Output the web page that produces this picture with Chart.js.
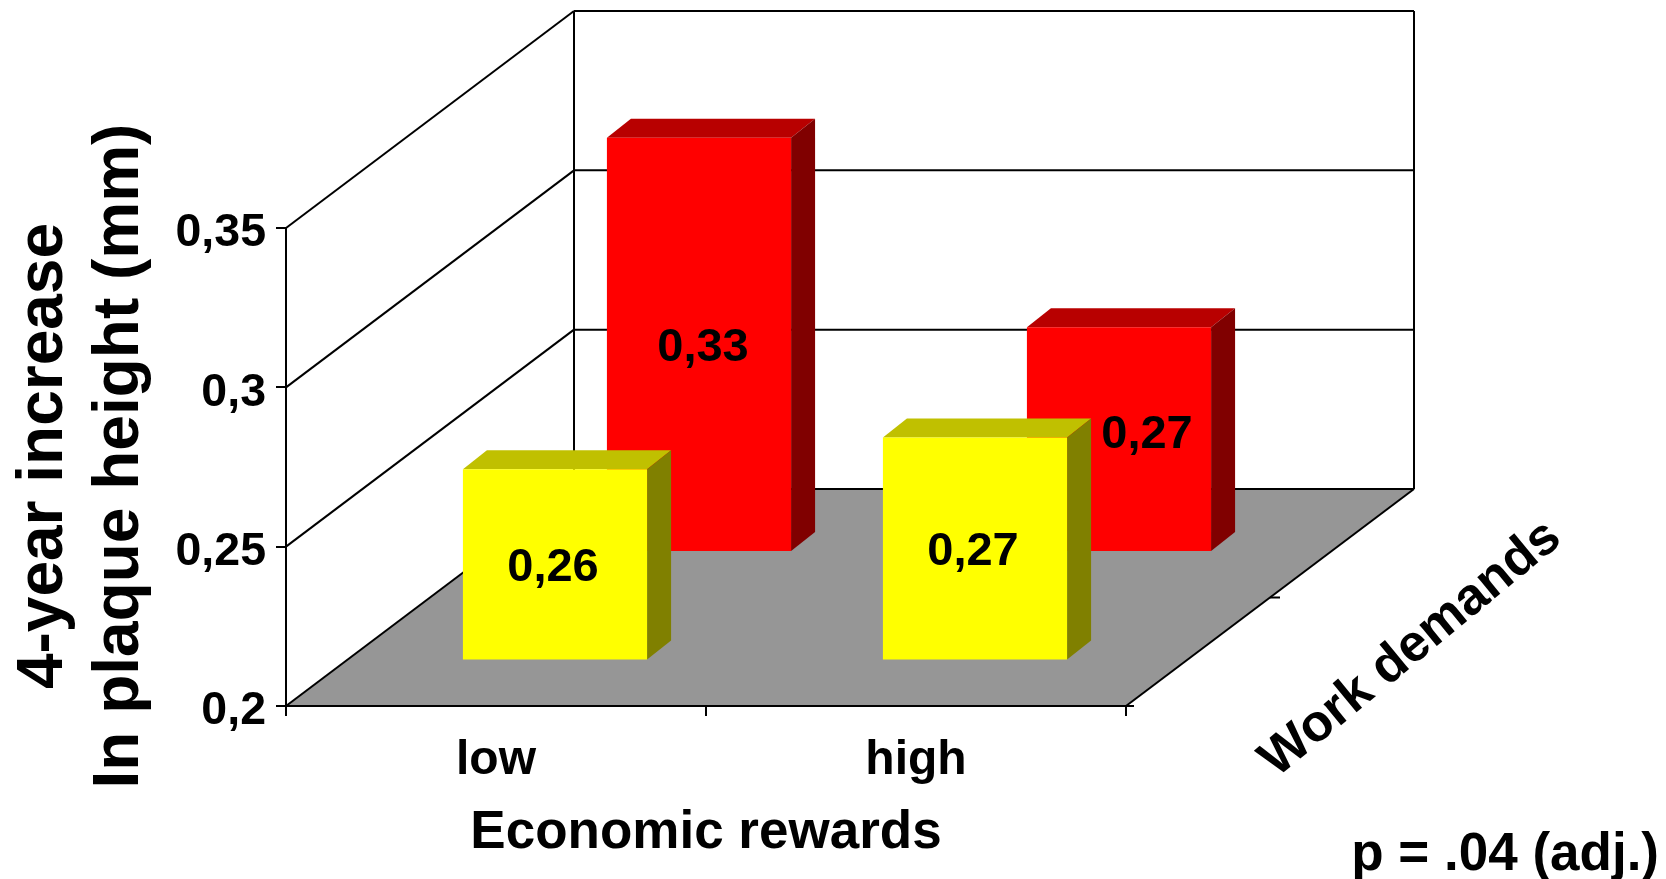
<!DOCTYPE html>
<html>
<head>
<meta charset="utf-8">
<style>html,body{margin:0;padding:0;background:#fff;overflow:hidden}canvas{display:block}</style>
<script src="https://cdn.jsdelivr.net/npm/chart.js@4"></script>
</head>
<body>
<canvas id="c" width="1666" height="879"></canvas>
<script>
const categories = ['low', 'high'];
const yellowValues = [0.26, 0.27];
const redValues = [0.33, 0.2705];
const yellowLabels = ['0,26', '0,27'];
const redLabels = ['0,33', '0,27'];
const yTickLabels = ['0,2', '0,25', '0,3', '0,35'];

const FONT = '"Liberation Sans", Arial, sans-serif';
const BASELINE = 0.2;
const BACK = {dx: 288, dy: -217};
const BAR_DEPTH = {dx: 24, dy: -19};
const ROWS = [
  {dx: 59, dy: -45.5, top: '#c0c000', side: '#808000'},
  {dx: 203, dy: -154, top: '#b80000', side: '#800000'}
];
const LABEL_NUDGE = [[[-2, 4], [-2, 3.5]], [[4, 4], [28, -4]]];

function seg(ctx, x1, y1, x2, y2) { ctx.beginPath(); ctx.moveTo(x1, y1); ctx.lineTo(x2, y2); ctx.stroke(); }

const scene = {
  id: 'scene',
  beforeDatasetsDraw(chart) {
    const {ctx, chartArea: a, scales: {y}} = chart;
    const f = BACK;
    ctx.save();
    ctx.strokeStyle = '#000';
    ctx.lineWidth = 2;
    [0.25, 0.3].forEach(v => {
      const p = y.getPixelForValue(v);
      seg(ctx, a.left, p, a.left + f.dx, p + f.dy);
      seg(ctx, a.left + f.dx, p + f.dy, a.right + f.dx, p + f.dy);
    });
    const t = y.getPixelForValue(0.35);
    seg(ctx, a.left, t, a.left + f.dx, t + f.dy);
    seg(ctx, a.left + f.dx, t + f.dy, a.right + f.dx, t + f.dy);
    seg(ctx, a.left + f.dx, t + f.dy, a.left + f.dx, a.bottom + f.dy);
    seg(ctx, a.right + f.dx, t + f.dy, a.right + f.dx, a.bottom + f.dy);
    ctx.fillStyle = '#969696';
    ctx.beginPath();
    ctx.moveTo(a.left, a.bottom);
    ctx.lineTo(a.right, a.bottom);
    ctx.lineTo(a.right + f.dx, a.bottom + f.dy);
    ctx.lineTo(a.left + f.dx, a.bottom + f.dy);
    ctx.closePath();
    ctx.fill();
    seg(ctx, a.left, a.bottom, a.left + f.dx, a.bottom + f.dy);
    seg(ctx, a.left + f.dx, a.bottom + f.dy, a.right + f.dx, a.bottom + f.dy);
    seg(ctx, a.right, a.bottom, a.right + f.dx, a.bottom + f.dy);
    seg(ctx, a.right, a.bottom, a.right + 8, a.bottom);
    const mx = a.right + f.dx / 2, my = a.bottom + f.dy / 2;
    seg(ctx, mx, my, mx + 10, my);
    ctx.restore();
  },
  beforeDatasetDraw(chart, args) {
    const {ctx} = chart;
    const r = ROWS[args.index];
    ctx.save();
    ctx.translate(r.dx, r.dy);
    args.meta.data.forEach(b => {
      const l = b.x - b.width / 2, rt = b.x + b.width / 2, d = BAR_DEPTH;
      ctx.fillStyle = r.top;
      ctx.beginPath();
      ctx.moveTo(l, b.y); ctx.lineTo(l + d.dx, b.y + d.dy);
      ctx.lineTo(rt + d.dx, b.y + d.dy); ctx.lineTo(rt, b.y);
      ctx.closePath(); ctx.fill();
      ctx.fillStyle = r.side;
      ctx.beginPath();
      ctx.moveTo(rt, b.y); ctx.lineTo(rt + d.dx, b.y + d.dy);
      ctx.lineTo(rt + d.dx, b.base + d.dy); ctx.lineTo(rt, b.base);
      ctx.closePath(); ctx.fill();
    });
  },
  afterDatasetDraw(chart) { chart.ctx.restore(); },
  afterDraw(chart) {
    const {ctx} = chart;
    ctx.save();
    ctx.fillStyle = '#000';
    ctx.textAlign = 'center';
    ctx.textBaseline = 'middle';
    ctx.font = 'bold 47px ' + FONT;
    chart.data.datasets.forEach((ds, i) => {
      const r = ROWS[i];
      chart.getDatasetMeta(i).data.forEach((b, j) => {
        const n = LABEL_NUDGE[i][j];
        ctx.fillText(ds.valueText[j], b.x + r.dx + n[0], (b.y + b.base) / 2 + r.dy + n[1]);
      });
    });
    ctx.textBaseline = 'alphabetic';
    ctx.font = 'bold 64px ' + FONT;
    ctx.save();
    ctx.translate(62, 456);
    ctx.rotate(-Math.PI / 2);
    ctx.fillText('4-year increase', 0, 0);
    ctx.fillText('In plaque height (mm)', 0, 76);
    ctx.restore();
    ctx.font = 'bold 52px ' + FONT;
    ctx.save();
    ctx.translate(1420, 660);
    ctx.rotate(-39.5 * Math.PI / 180);
    ctx.fillText('Work demands', 0, 0);
    ctx.restore();
    ctx.textAlign = 'right';
    ctx.font = 'bold 53px ' + FONT;
    ctx.fillText('p = .04 (adj.)', 1659, 870);
    ctx.restore();
  }
};

new Chart(document.getElementById('c'), {
  type: 'bar',
  data: {
    labels: categories,
    datasets: [
      {label: 'low work demands', data: yellowValues, valueText: yellowLabels, backgroundColor: '#ffff00', grouped: false, clip: false, base: BASELINE},
      {label: 'high work demands', data: redValues, valueText: redLabels, backgroundColor: '#ff0000', grouped: false, clip: false, base: BASELINE}
    ]
  },
  plugins: [scene],
  options: {
    responsive: false,
    animation: false,
    barPercentage: 0.4385,
    categoryPercentage: 1,
    layout: {padding: {left: 0, right: 540, top: 228, bottom: 0}},
    plugins: {legend: {display: false}, tooltip: {enabled: false}, title: {display: false}},
    scales: {
      x: {
        afterFit(s) { s.height = 173; },
        border: {color: '#000', width: 2, z: 1},
        grid: {drawOnChartArea: false, drawTicks: true, tickLength: 10, color: '#000', lineWidth: 2, z: 1},
        ticks: {color: '#000', font: {family: FONT, weight: 'bold', size: 48}, padding: 16, maxRotation: 0, autoSkip: false},
        title: {display: true, text: 'Economic rewards', color: '#000', font: {family: FONT, weight: 'bold', size: 53}, padding: {top: 0, bottom: 14}}
      },
      y: {
        min: BASELINE,
        max: 0.35,
        afterFit(s) { s.width = 286; },
        border: {color: '#000', width: 2, z: 1},
        grid: {drawOnChartArea: false, drawTicks: true, tickLength: 10, color: '#000', lineWidth: 2, z: 1},
        ticks: {
          stepSize: 0.05,
          color: '#000',
          padding: 10,
          font: {family: FONT, weight: 'bold', size: 46.5, lineHeight: '11px'},
          callback(v, i) { return ['', yTickLabels[i]]; }
        }
      }
    }
  }
});
</script>
</body>
</html>
